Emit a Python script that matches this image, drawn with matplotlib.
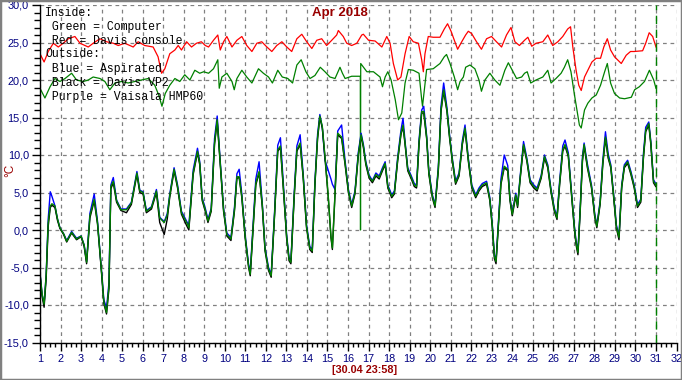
import numpy as np
import matplotlib
matplotlib.use("Agg")
import matplotlib.pyplot as plt
from matplotlib.patches import Rectangle
from matplotlib.ticker import MultipleLocator, FuncFormatter

plt.rcParams["font.family"] = ["Liberation Sans", "DejaVu Sans"]

# ---- inside sensors ----
red_days = [1.00, 1.20, 1.40, 1.65, 1.89, 2.13, 2.38, 2.70, 2.95, 3.35,
            3.59, 3.92, 4.24, 4.57, 4.81, 5.13, 5.54, 5.78, 6.10, 6.51,
            6.75, 6.92, 7.08, 7.32, 7.57, 7.73, 7.89, 8.14, 8.38, 8.62,
            8.86, 9.05, 9.21, 9.45, 9.66, 9.78, 9.94, 10.10, 10.35, 10.59,
            10.83, 11.07, 11.32, 11.56, 11.80, 12.05, 12.29, 12.53, 12.78, 13.02,
            13.26, 13.51, 13.75, 13.99, 14.24, 14.48, 14.72, 14.96, 15.21, 15.45,
            15.53, 15.77, 15.94, 16.18, 16.43, 16.67, 16.75, 17.00, 17.32, 17.65,
            17.89, 18.05, 18.21, 18.42, 18.58, 18.78, 18.98, 19.18, 19.43, 19.59,
            19.67, 19.75, 19.91, 20.15, 20.48, 20.69, 20.85, 21.02, 21.21, 21.34,
            21.54, 21.73, 21.86, 22.02, 22.26, 22.50, 22.75, 22.99, 23.23, 23.48,
            23.72, 23.94, 24.13, 24.35, 24.60, 24.76, 24.95, 25.16, 25.49, 25.73,
            25.97, 26.22, 26.46, 26.70, 26.84, 26.95, 27.11, 27.24, 27.36, 27.52,
            27.68, 27.88, 28.09, 28.30, 28.46, 28.63, 28.79, 28.98, 29.31, 29.55,
            29.76, 29.94, 30.35, 30.50, 30.67, 30.84, 31.00]
red_temp = [23.5, 22.4, 23.8, 24.9, 24.4, 24.9, 25.5, 25.8, 24.9, 24.4,
            24.9, 25.5, 25.1, 24.9, 24.6, 24.9, 24.4, 25.1, 24.6, 24.4,
            23.1, 20.9, 21.5, 23.5, 24.0, 24.6, 24.0, 25.1, 24.4, 24.9,
            25.1, 24.6, 24.4, 25.3, 26.0, 24.0, 25.1, 25.8, 24.4, 25.3,
            25.8, 24.6, 23.8, 24.9, 25.1, 24.4, 23.8, 24.6, 25.1, 24.4,
            23.8, 25.5, 26.1, 25.1, 24.2, 25.3, 25.5, 24.6, 25.3, 26.0,
            26.6, 25.8, 24.9, 24.6, 24.9, 26.0, 26.1, 25.3, 25.2, 24.4,
            25.8, 24.9, 22.2, 20.0, 20.4, 23.5, 25.8, 25.1, 24.9, 22.7,
            21.1, 23.5, 25.8, 25.7, 25.7, 26.8, 27.5, 26.5, 25.1, 24.1,
            25.1, 26.0, 26.5, 26.2, 25.1, 24.1, 25.5, 25.8, 25.1, 24.4,
            26.0, 27.0, 25.1, 24.6, 25.3, 25.7, 24.5, 24.9, 25.1, 26.0,
            24.6, 25.1, 25.8, 26.8, 27.1, 24.4, 21.3, 19.3, 18.6, 20.4,
            21.3, 22.4, 22.9, 22.9, 24.4, 25.5, 24.0, 23.1, 22.2, 23.3,
            23.8, 23.8, 23.9, 24.9, 26.3, 25.8, 24.4]

comp_days = [1.00, 1.24, 1.49, 1.73, 1.97, 2.22, 2.54, 2.78, 3.11, 3.35,
             3.59, 3.92, 4.16, 4.40, 4.65, 4.97, 5.29, 5.62, 5.94, 6.27,
             6.59, 6.78, 6.94, 7.10, 7.32, 7.57, 7.81, 8.05, 8.30, 8.54,
             8.78, 8.97, 9.21, 9.45, 9.66, 9.73, 9.86, 10.10, 10.35, 10.46,
             10.59, 10.83, 11.07, 11.32, 11.64, 11.88, 12.13, 12.32, 12.58, 12.80,
             13.07, 13.30, 13.51, 13.72, 13.95, 14.15, 14.39, 14.65, 14.88, 15.12,
             15.37, 15.61, 15.73, 15.86, 16.18, 16.43, 16.60, 16.61, 16.62, 16.92,
             17.24, 17.56, 17.68, 17.81, 17.94, 18.10, 18.30, 18.46, 18.62, 18.78,
             18.94, 19.18, 19.46, 19.59, 19.63, 19.69, 19.83, 20.15, 20.48, 20.69,
             20.80, 20.97, 21.18, 21.34, 21.46, 21.62, 21.73, 21.94, 22.18, 22.38,
             22.50, 22.67, 22.91, 23.15, 23.40, 23.64, 23.81, 24.00, 24.21, 24.46,
             24.60, 24.73, 24.90, 25.16, 25.49, 25.73, 25.89, 26.13, 26.38, 26.54,
             26.70, 26.86, 27.02, 27.15, 27.27, 27.36, 27.52, 27.68, 27.88, 28.09,
             28.30, 28.50, 28.63, 28.79, 28.98, 29.23, 29.47, 29.80, 29.96, 30.19,
             30.44, 30.68, 30.89, 31.00]
comp_temp = [18.9, 17.6, 19.1, 20.2, 19.8, 20.2, 20.9, 20.0, 19.8, 20.0,
             20.4, 20.2, 19.8, 18.7, 19.6, 19.8, 19.6, 19.8, 20.0, 20.2,
             19.3, 18.0, 16.5, 18.2, 19.3, 20.2, 19.8, 20.7, 20.0, 21.3,
             20.9, 21.1, 20.9, 21.5, 22.7, 18.9, 20.4, 20.9, 19.8, 18.7,
             20.2, 21.3, 20.4, 19.6, 21.5, 20.9, 20.4, 19.6, 21.3, 20.4,
             20.2, 19.6, 22.0, 22.7, 21.1, 20.2, 20.6, 21.7, 21.1, 20.4,
             20.2, 21.7, 20.9, 20.2, 20.5, 20.5, 20.5, 0.0, 22.2, 21.1,
             21.1, 20.4, 19.1, 20.4, 21.1, 20.0, 17.4, 14.7, 15.6, 19.6,
             21.4, 21.3, 20.9, 17.4, 16.5, 18.0, 21.4, 21.5, 22.2, 23.1,
             23.4, 22.2, 20.4, 18.7, 19.8, 20.4, 21.7, 22.0, 21.5, 20.0,
             18.5, 20.0, 20.9, 20.0, 19.3, 21.3, 22.3, 21.3, 20.2, 20.4,
             20.9, 21.1, 19.6, 20.0, 20.4, 21.3, 19.6, 20.2, 20.9, 21.7,
             22.7, 21.1, 18.2, 16.0, 14.0, 13.6, 16.0, 16.9, 17.6, 18.0,
             19.3, 21.1, 22.2, 19.6, 18.2, 17.6, 17.5, 17.7, 18.7, 19.1,
             19.8, 21.3, 20.0, 18.9]

# ---- outside sensors ----
out_days = [1.00, 1.10, 1.20, 1.30, 1.40, 1.50, 1.58, 1.73, 1.85, 1.97,
            2.15, 2.30, 2.54, 2.78, 3.00, 3.15, 3.27, 3.43, 3.64, 3.80,
            3.97, 4.11, 4.24, 4.36, 4.45, 4.57, 4.73, 4.94, 5.21, 5.45,
            5.72, 5.86, 6.02, 6.18, 6.43, 6.67, 6.83, 7.05, 7.20, 7.32,
            7.53, 7.70, 7.89, 8.14, 8.25, 8.46, 8.67, 8.78, 8.90, 9.05,
            9.18, 9.34, 9.50, 9.63, 9.78, 9.94, 10.10, 10.30, 10.47, 10.59,
            10.70, 10.83, 10.99, 11.16, 11.24, 11.40, 11.51, 11.67, 11.83, 11.96,
            12.13, 12.26, 12.42, 12.58, 12.71, 12.87, 13.01, 13.13, 13.22, 13.38,
            13.51, 13.67, 13.82, 13.98, 14.14, 14.26, 14.39, 14.52, 14.63, 14.75,
            14.88, 15.04, 15.17, 15.24, 15.37, 15.50, 15.69, 15.86, 16.02, 16.18,
            16.34, 16.50, 16.64, 16.75, 16.87, 17.03, 17.19, 17.36, 17.52, 17.68,
            17.81, 17.94, 18.13, 18.26, 18.42, 18.58, 18.68, 18.78, 18.91, 19.07,
            19.23, 19.34, 19.46, 19.59, 19.69, 19.83, 19.94, 20.11, 20.24, 20.40,
            20.53, 20.66, 20.82, 20.95, 21.08, 21.24, 21.41, 21.57, 21.70, 21.86,
            22.03, 22.22, 22.38, 22.54, 22.75, 22.91, 23.03, 23.13, 23.21, 23.32,
            23.45, 23.61, 23.78, 23.89, 24.00, 24.17, 24.26, 24.39, 24.55, 24.71,
            24.87, 25.05, 25.21, 25.41, 25.57, 25.73, 25.89, 26.05, 26.18, 26.31,
            26.46, 26.57, 26.73, 26.90, 27.02, 27.11, 27.20, 27.31, 27.42, 27.50,
            27.66, 27.86, 28.02, 28.12, 28.28, 28.41, 28.54, 28.67, 28.80, 28.94,
            29.07, 29.20, 29.33, 29.46, 29.62, 29.78, 29.94, 30.10, 30.26, 30.39,
            30.50, 30.65, 30.75, 30.88, 30.99]
hmp_temp = [-5.7, -8.5, -9.9, -6.0, 1.0, 3.2, 3.5, 3.2, 1.5, 0.3,
            -0.5, -1.5, -0.3, -1.2, -0.8, -2.0, -4.3, 1.9, 4.1, 1.0,
            -4.6, -9.6, -11.0, -7.4, 5.8, 6.5, 3.9, 2.7, 2.7, 3.6,
            7.6, 5.2, 5.0, 2.5, 3.0, 5.2, 1.6, 1.0, 2.0, 4.6,
            8.1, 5.8, 2.3, 1.0, 0.3, 7.6, 10.5, 8.9, 4.1, 2.7,
            1.2, 2.7, 11.6, 14.7, 8.9, 2.7, -0.6, -1.2, 2.7, 7.1,
            7.1, 4.5, -0.8, -4.8, -5.9, 1.4, 6.2, 7.8, 3.2, -2.6,
            -5.2, -6.1, 1.9, 10.7, 11.2, 5.0, -0.8, -3.9, -4.3, 4.5,
            10.7, 11.6, 7.1, 0.5, -2.4, -2.8, 6.2, 12.4, 15.2, 13.8,
            9.8, 4.5, -0.8, -2.4, 5.0, 12.9, 12.4, 8.9, 5.2, 3.2,
            5.0, 10.0, 12.7, 11.2, 8.9, 7.1, 6.5, 7.4, 7.0, 8.1,
            8.9, 5.8, 4.5, 5.0, 9.4, 12.9, 14.0, 11.6, 8.1, 7.1,
            6.0, 5.8, 11.6, 15.8, 15.8, 12.4, 7.6, 4.5, 3.2, 8.1,
            16.0, 18.7, 16.0, 12.4, 9.4, 6.3, 7.4, 11.6, 13.6, 9.4,
            5.8, 4.5, 5.4, 6.0, 6.3, 4.1, 0.5, -3.5, -4.2, 0.5,
            6.3, 8.5, 8.1, 4.1, 2.1, 4.7, 3.2, 7.1, 11.4, 9.4,
            6.5, 5.8, 5.4, 7.1, 9.8, 8.5, 5.2, 2.7, 1.6, 6.3,
            10.7, 11.4, 10.0, 4.5, 0.5, -1.7, -3.0, 2.7, 9.4, 11.4,
            8.5, 5.8, 1.9, 0.5, 3.6, 8.9, 12.4, 9.8, 8.5, 4.5,
            0.5, -1.0, 5.8, 8.5, 9.1, 7.6, 5.8, 3.2, 3.9, 9.8,
            13.3, 14.2, 11.6, 6.5, 6.0]
asp_temp = [-5.7, -8.5, -9.9, -6.0, 1.5, 5.1, 4.5, 3.2, 1.5, 0.3,
            -0.5, -1.4, -0.2, -1.1, -0.8, -2.0, -4.2, 2.2, 4.8, 1.2,
            -4.5, -9.3, -10.4, -7.0, 6.0, 7.0, 4.0, 2.8, 2.8, 3.7,
            7.8, 5.3, 5.1, 2.6, 3.1, 5.4, 1.7, 1.1, 2.2, 4.8,
            8.3, 6.0, 2.5, 1.2, 0.6, 8.0, 10.9, 9.1, 4.3, 2.9,
            1.4, 2.9, 12.2, 15.2, 9.1, 2.9, -0.4, -1.0, 3.0, 7.5,
            8.1, 4.8, -0.6, -4.6, -5.6, 1.7, 6.8, 9.1, 3.4, -2.4,
            -5.0, -5.9, 2.2, 11.3, 12.3, 5.3, -0.6, -3.7, -4.1, 4.9,
            11.2, 12.7, 7.4, 0.7, -2.2, -2.6, 6.5, 12.8, 15.4, 13.6,
            9.3, 7.9, 6.8, 6.1, 5.4, 13.2, 14.0, 9.2, 5.4, 3.4,
            5.2, 10.3, 12.9, 11.4, 9.1, 7.3, 6.6, 7.6, 7.2, 8.3,
            9.1, 6.0, 4.7, 5.2, 9.7, 13.3, 14.9, 11.8, 8.3, 7.3,
            6.2, 6.0, 12.0, 16.0, 16.5, 12.6, 7.8, 4.7, 3.4, 8.4,
            16.5, 19.6, 16.3, 12.6, 9.6, 6.5, 7.6, 11.9, 14.0, 9.6,
            6.0, 4.7, 5.6, 6.2, 6.5, 4.3, 0.7, -3.3, -4.0, 0.8,
            6.8, 10.0, 8.6, 4.3, 2.3, 4.9, 3.4, 7.3, 11.8, 9.6,
            6.7, 6.0, 5.6, 7.3, 10.0, 8.7, 5.4, 2.9, 1.8, 6.6,
            11.2, 12.0, 10.3, 4.7, 0.7, -1.5, -2.8, 3.0, 9.8, 11.6,
            8.8, 6.0, 2.1, 0.7, 3.8, 9.3, 13.1, 10.2, 8.7, 4.7,
            0.7, -0.8, 6.0, 8.7, 9.3, 7.8, 6.0, 3.4, 4.1, 10.2,
            13.7, 14.4, 11.8, 6.7, 6.2]
vp2_temp = [-5.9, -8.8, -10.3, -6.5, 0.5, 3.0, 3.3, 3.0, 1.3, 0.2,
            -0.6, -1.6, -0.4, -1.3, -0.9, -2.2, -4.5, 1.6, 3.9, 0.8,
            -4.8, -9.8, -11.2, -7.8, 5.5, 6.3, 3.7, 2.6, 2.3, 3.4,
            7.4, 5.0, 4.8, 2.3, 2.8, 5.0, 1.0, -0.6, 1.5, 4.4,
            7.9, 5.6, 2.1, 0.6, 0.0, 7.4, 10.3, 8.7, 3.9, 2.5,
            1.0, 2.5, 11.4, 14.5, 8.7, 2.5, -0.8, -1.4, 2.5, 6.9,
            7.0, 4.3, -1.0, -5.0, -6.1, 1.2, 6.0, 7.6, 3.0, -2.8,
            -5.4, -6.3, 1.7, 10.5, 11.0, 4.8, -1.0, -4.1, -4.5, 4.3,
            10.5, 11.4, 6.9, 0.3, -2.6, -3.0, 6.0, 12.2, 15.0, 13.6,
            9.6, 4.3, -1.0, -2.6, 4.8, 12.7, 12.2, 8.7, 5.0, 3.0,
            4.8, 9.8, 12.5, 11.0, 8.7, 6.9, 6.3, 7.2, 6.8, 7.9,
            8.7, 5.6, 4.3, 4.8, 9.2, 12.7, 13.8, 11.4, 7.9, 6.9,
            5.8, 5.6, 11.4, 15.6, 15.6, 12.2, 7.4, 4.3, 3.0, 7.9,
            15.8, 18.5, 15.8, 12.2, 9.2, 6.1, 7.2, 11.4, 13.4, 9.2,
            5.6, 4.3, 5.2, 5.8, 6.1, 3.9, 0.3, -3.8, -4.5, 0.3,
            6.1, 8.3, 7.9, 3.9, 1.9, 4.5, 3.0, 6.9, 11.2, 9.2,
            6.3, 5.6, 5.2, 6.9, 9.6, 8.3, 5.0, 2.5, 1.4, 6.1,
            10.5, 11.2, 9.8, 4.3, 0.3, -2.0, -3.3, 2.5, 9.2, 11.2,
            8.3, 5.6, 1.7, 0.3, 3.4, 8.7, 12.2, 9.6, 8.3, 4.3,
            0.3, -1.3, 5.6, 8.3, 8.9, 7.4, 5.6, 3.0, 3.7, 9.6,
            13.1, 14.0, 11.4, 6.3, 5.8]

legend_lines = ["Inside:", " Green = Computer", " Red = Davis console", "Outside:",
                " Blue = Aspirated", " Black = Davis VP2", " Purple = Vaisala HMP60"]
now_day = 31

W, H = 682, 380
fig = plt.figure(figsize=(W / 100, H / 100), dpi=100)
ax = fig.add_axes([40 / W, 37.5 / H, 636.5 / W, 337.5 / H])

ax.plot(red_days, red_temp, color="#ff0000", lw=0.9)
ax.plot(comp_days, comp_temp, color="#008000", lw=0.9)
ax.plot(out_days, asp_temp, color="#0000ff", lw=1.0)
ax.plot(out_days, vp2_temp, color="black", lw=1.0)
ax.plot(out_days, hmp_temp, color="#008000", lw=1.0)
ax.axvline(now_day, color="#008000", lw=1.0, linestyle=(0, (6, 4)))

ax.set_xlim(1, 32)
ax.set_ylim(-15, 30)
ax.xaxis.set_major_locator(MultipleLocator(1))
ax.xaxis.set_minor_locator(MultipleLocator(0.25))
ax.yaxis.set_major_locator(MultipleLocator(5))
ax.yaxis.set_minor_locator(MultipleLocator(1))
ax.yaxis.set_major_formatter(FuncFormatter(lambda v, p: f"{v:.1f}".replace(".", ",")))
ax.xaxis.set_major_formatter(FuncFormatter(lambda v, p: f"{int(v)}"))
ax.tick_params(which="major", length=6, width=1, color="black", labelcolor="#000080",
               labelsize=7.8, pad=2)
ax.tick_params(which="minor", length=3, width=1, color="black")
ax.tick_params(axis="y", which="minor", length=4)
ax.grid(True, which="major", color="#808080", linestyle=(0, (3, 3)), lw=0.9)
ax.set_axisbelow(True)
for s in ["top", "right"]:
    ax.spines[s].set_visible(False)
ax.spines["left"].set_linewidth(1)
ax.spines["bottom"].set_linewidth(1)

for i, txt in enumerate(legend_lines):
    y = [13, 27, 41, 54, 69, 83, 97][i]
    fig.text(45 / W, 1 - y / H, txt, family="Liberation Mono", fontsize=8.3,
             color="black", va="center", ha="left")

fig.text(340 / W, 1 - 13 / H, "Apr 2018", color="#990000", fontsize=9.5,
         fontweight="bold", ha="center", va="center")
fig.text(365 / W, 1 - 370 / H, "[30.04 23:58]", color="#990000", fontsize=7.8,
         fontweight="bold", ha="center", va="center")
fig.text(10 / W, 1 - 170 / H, "°C", color="#990000", fontsize=8.5,
         rotation=90, ha="center", va="center")

fig.patches.append(Rectangle((0, 0), 1, 1, transform=fig.transFigure, fill=False,
                             edgecolor="#808080", lw=2.5))

fig.savefig("out.png", dpi=100)
